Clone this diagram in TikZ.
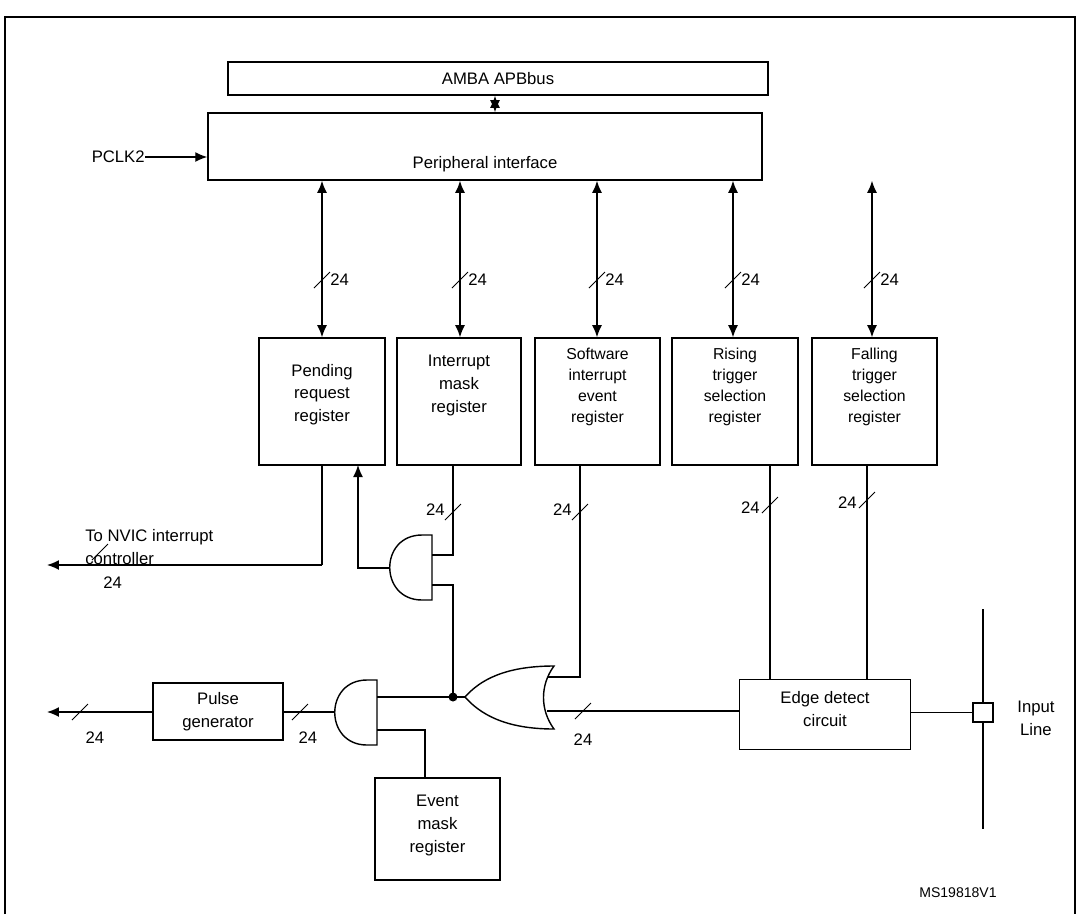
\documentclass[tikz,border=0pt]{standalone}
\usepackage{fontspec}
\setmainfont{Liberation Sans}
\usetikzlibrary{arrows.meta, positioning, calc}
\tikzset{
  box_font/.style = {font=\fontsize{9.5}{13}\selectfont},
  reg/.style = {draw, line width=0.9pt, minimum width=2.5cm, minimum height=2.54cm, inner sep=0},
  lbl/.style = {box_font, align=center, inner sep=0},
  wire/.style = {line width=0.8pt},
  bus/.style = {wire, {Latex[length=2.4mm,width=2mm]}-{Latex[length=2.4mm,width=2mm]}},
  outarrow/.style = {wire, -{Latex[length=2.4mm,width=2mm]}},
  gate/.style = {line width=0.8pt}
}
\newcommand{\slashmark}[1]{\draw[line width=0.5pt] ($(#1)+(-8,8)$) -- ($(#1)+(8,-8)$);}
\begin{document}
\begin{tikzpicture}[x=0.02cm, y=-0.02cm]
  \useasboundingbox (0,0) rectangle (1079,914);
  % frame
  \draw[line width=1pt] (5,914) -- (5,17) -- (1075,17) -- (1075,914);

  % Buses
  \node[draw, line width=0.9pt, minimum width=10.8cm, minimum height=0.66cm, box_font] (amba) at (498,78.5) {AMBA APBbus};
  \node[draw, line width=0.9pt, minimum width=11.08cm, minimum height=1.34cm] (pif) at (485,146.5) {};
  \node[lbl, above=5pt of pif.south] (pif_t) {Peripheral interface};
  \draw[bus] (amba.south -| 495,0) -- (pif.north -| 495,0);
  \node[lbl, anchor=east] (pclk) at (145,157) {PCLK2};
  \draw[outarrow] (pclk.east) -- (pif.west |- pclk.east);

  % Registers
  \node[reg, minimum width=2.52cm] (pend) at (322,401.5) {};
  \node[reg, minimum width=2.48cm] (mask) at (459,401.5) {};
  \node[reg] (swi) at (597.5,401.5) {};
  \node[reg, minimum width=2.52cm] (rise) at (735,401.5) {};
  \node[reg] (fall) at (874.5,401.5) {};
  \node[lbl, below=15pt of pend.north] {Pending\\request\\register};
  \node[lbl, below=10pt of mask.north] {Interrupt\\mask\\register};
  \node[lbl, below=6pt of swi.north, font=\fontsize{9}{12}\selectfont] {Software\\interrupt\\event\\register};
  \node[lbl, below=6pt of rise.north, font=\fontsize{9}{12}\selectfont] {Rising\\trigger\\selection\\register};
  \node[lbl, below=6pt of fall.north, font=\fontsize{9}{12}\selectfont] {Falling\\trigger\\selection\\register};

  % register buses
  \foreach \r/\x in {pend/322, mask/460, swi/597, rise/733, fall/872}{
    \draw[bus] (pif.south -| \x,0) -- (\r.north -| \x,0);
    \slashmark{\x,280}
    \node[lbl, anchor=west] at (\x+8,280) {24};
  }

  % Lower blocks
  \node[draw, line width=0.9pt, minimum width=2.6cm, minimum height=1.14cm] (pulse) at (218,711.5) {};
  \node[lbl] at (pulse.center) {Pulse\\generator};
  \node[draw, line width=0.9pt, minimum width=2.5cm, minimum height=2.04cm] (evm) at (437.5,829) {};
  \node[lbl, below=10pt of evm.north] {Event\\mask\\register};
  \node[draw, line width=0.9pt, minimum width=3.42cm, minimum height=1.4cm] (edge) at (825,714.5) {};
  \node[lbl, below=7pt of edge.north] {Edge detect\\circuit};
  \node[draw, line width=0.9pt, minimum width=0.4cm, minimum height=0.38cm, inner sep=0] (pin) at (983,712.5) {};
  \node[lbl, anchor=west] (inl) at (1017,718) {Input\\Line};
  \draw[line width=1.6pt] (983,609) -- (pin.north);
  \draw[line width=1.6pt] (pin.south) -- (983,829);

  % Gates
  \draw[gate] (432,535) -- (422,535) .. controls (379,535) and (379,600) .. (422,600) -- (432,600) -- cycle;
  \coordinate (and1_in1) at (432,555);
  \coordinate (and1_in2) at (432,585);
  \coordinate (and1_out) at (390,568);
  \draw[gate] (377,680) -- (367,680) .. controls (324,680) and (324,745) .. (367,745) -- (377,745) -- cycle;
  \coordinate (and2_in1) at (377,697);
  \coordinate (and2_in2) at (377,730);
  \coordinate (and2_out) at (335,712);
  \draw[gate] (465,697) .. controls (480,680) and (505,666) .. (554,666)
    .. controls (540,685) and (540,710) .. (554,729)
    .. controls (505,729) and (480,714) .. (465,697);
  \coordinate (or_in1) at (548,677);
  \coordinate (or_in2) at (547,711);
  \coordinate (or_out) at (465,697);
  \coordinate (jn) at (453,697);

  % Wiring
  \draw[wire] (pend.south) -- (322,565) coordinate (nv);
  \draw[outarrow] (nv) -- (47,565);
  \slashmark{100,552}
  \node[lbl, anchor=west] at (103,583) {24};
  \node[lbl, anchor=west, align=left] at (85,547) {To NVIC interrupt\\controller};
  \draw[outarrow] (and1_out) -- (358,568) -- (358,465);
  \draw[wire] (mask.south -| 453,0) -- (and1_in1 -| 453,0) -- (and1_in1);
  \slashmark{453,512}
  \node[lbl, anchor=east] at (445,510) {24};
  \draw[wire] (and1_in2) -- (453,585) -- (jn);
  \fill (jn) circle (4.5);
  \draw[wire] (or_out) -- (and2_in1);
  \draw[wire] (swi.south -| 580,0) -- (580,677) -- (or_in1);
  \slashmark{580,512}
  \node[lbl, anchor=east] at (572,510) {24};
  \draw[wire] (or_in2) -- (edge.west |- or_in2);
  \slashmark{583,711}
  \node[lbl] at (583,740) {24};
  \draw[wire] (rise.south -| 770,0) -- (edge.north -| 770,0);
  \slashmark{770,505}
  \node[lbl, anchor=east] at (760,508) {24};
  \draw[wire] (fall.south -| 867,0) -- (edge.north -| 867,0);
  \slashmark{867,500}
  \node[lbl, anchor=east] at (857,503) {24};
  \draw[wire] (edge.east |- pin.west) -- (pin.west);
  \draw[wire] (and2_in2) -- (425,730) -- (evm.north -| 425,0);
  \draw[wire] (and2_out) -- (pulse.east |- and2_out);
  \slashmark{300,712}
  \node[lbl] at (308,738) {24};
  \draw[outarrow] (pulse.west |- 0,712) -- (47,712);
  \slashmark{80,712}
  \node[lbl] at (95,738) {24};

  \node[lbl, font=\fontsize{8}{10}\selectfont] (ms) at (958,893) {MS19818V1};
\end{tikzpicture}
\end{document}
